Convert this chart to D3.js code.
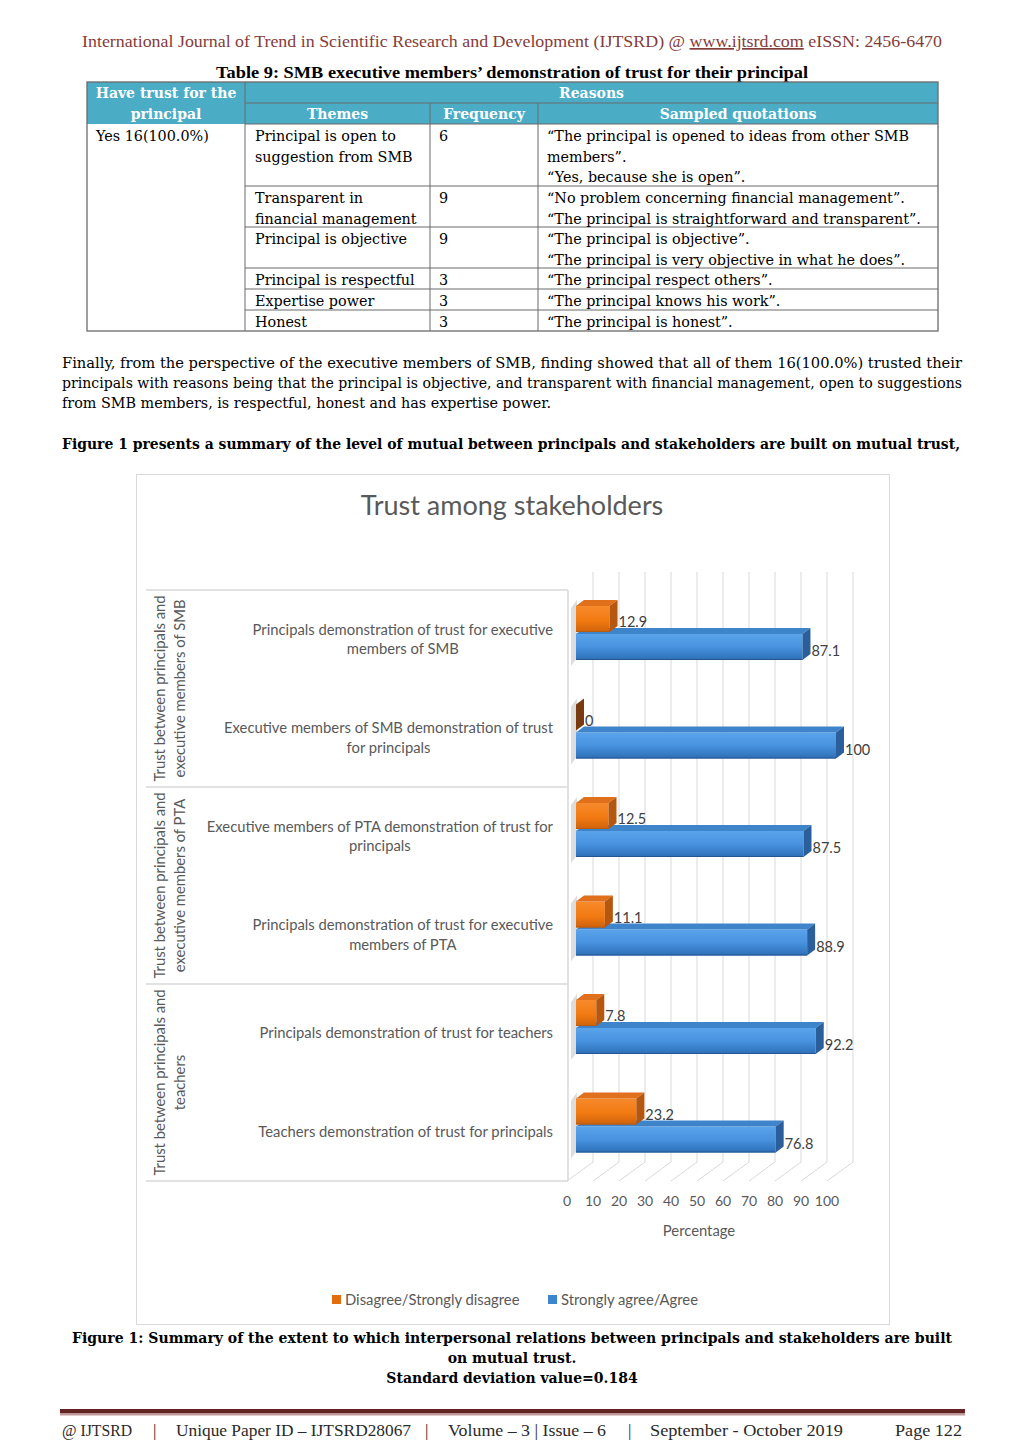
<!DOCTYPE html>
<html>
<head>
<meta charset="utf-8">
<script src="https://cdn.jsdelivr.net/npm/d3@7"></script>
<style>
  html, body { margin: 0; padding: 0; background: #fff; }
  svg { display: block; }
</style>
</head>
<body>
<svg id="page" width="1024" height="1449"></svg>
<script>
// ---------------- DATA ----------------
const categories = [
  "Principals demonstration of trust for executive\nmembers of SMB",
  "Executive members of SMB demonstration of trust\nfor principals",
  "Executive members of PTA demonstration of trust for\nprincipals",
  "Principals demonstration of trust for executive\nmembers of PTA",
  "Principals demonstration of trust for teachers",
  "Teachers demonstration of trust for principals"
];
const groups = [
  "Trust between principals and\nexecutive members of SMB",
  "Trust between principals and\nexecutive members of PTA",
  "Trust between principals and\nteachers"
];
const disagreeValues = [12.9, 0, 12.5, 11.1, 7.8, 23.2];
const agreeValues = [87.1, 100, 87.5, 88.9, 92.2, 76.8];
const seriesNames = ["Disagree/Strongly disagree", "Strongly agree/Agree"];
const xTicks = [0, 10, 20, 30, 40, 50, 60, 70, 80, 90, 100];
const chartTitle = "Trust among stakeholders";
const xAxisTitle = "Percentage";

// table content
const tableTitle = "Table 9: SMB executive members’ demonstration of trust for their principal";
const tableHead1 = ["Have trust for the", "Reasons"];
const tableHead2 = ["principal", "Themes", "Frequency", "Sampled quotations"];
const trustAnswer = "Yes 16(100.0%)";
const themes = ["Principal is open to\nsuggestion from SMB", "Transparent in\nfinancial management", "Principal is objective", "Principal is respectful", "Expertise power", "Honest"];
const frequencies = [6, 9, 9, 3, 3, 3];
const quotations = [
  "“The principal is opened to ideas from other SMB\nmembers”.\n“Yes, because she is open”.",
  "“No problem concerning financial management”.\n“The principal is straightforward and transparent”.",
  "“The principal is objective”.\n“The principal is very objective in what he does”.",
  "“The principal respect others”.",
  "“The principal knows his work”.",
  "“The principal is honest”."
];
const headerText = ["International Journal of Trend in Scientific Research and Development (IJTSRD) @ ", "www.ijtsrd.com", " eISSN: 2456-6470"];
const paragraph = [
  "Finally, from the perspective of the executive members of SMB, finding showed that all of them 16(100.0%) trusted their",
  "principals with reasons being that the principal is objective, and transparent with financial management, open to suggestions",
  "from SMB members, is respectful, honest and has expertise power."
];
const boldLine = "Figure 1 presents a summary of the level of mutual between principals and stakeholders are built on mutual trust,";
const caption = [
  "Figure 1: Summary of the extent to which interpersonal relations between principals and stakeholders are built",
  "on mutual trust.",
  "Standard deviation value=0.184"
];
const footerParts = ["@ IJTSRD", "|", "Unique Paper ID – IJTSRD28067", "|", "Volume – 3 | Issue – 6", "|", "September - October 2019", "Page 122"];

// ---------------- PAGE ----------------
const svg = d3.select("#page");
const SERIF = "'DejaVu Serif', 'Liberation Serif', serif";
const NARROW = "'Liberation Serif', 'Times New Roman', serif";
const SANS = "Lato, 'Open Sans', sans-serif";
const FS = 14.35;
const FSB = 14.0;

// running header
const hdr = svg.append("text").attr("x", 82).attr("y", 47)
  .attr("font-family", NARROW).attr("font-size", 17).attr("fill", "#843c39")
  .attr("textLength", 860).attr("lengthAdjust", "spacingAndGlyphs");
hdr.append("tspan").text(headerText[0]);
hdr.append("tspan").attr("text-decoration", "underline").text(headerText[1]);
hdr.append("tspan").text(headerText[2]);

// table title
svg.append("text").attr("x", 512).attr("y", 78).attr("text-anchor", "middle")
  .attr("font-family", NARROW).attr("font-weight", "bold").attr("font-size", 17).attr("fill", "#000")
  .attr("textLength", 592).attr("lengthAdjust", "spacingAndGlyphs")
  .text(tableTitle);

// table
const colX = [87, 245, 430, 538, 938];
const rowY = [124, 186, 227, 268, 289, 310, 331];
const tbl = svg.append("g");
tbl.append("rect").attr("x", colX[0]).attr("y", 82).attr("width", colX[4] - colX[0]).attr("height", 42).attr("fill", "#4bacc6");
const lineCol = "#6a6a6a";
function hl(x1, x2, y, w) { tbl.append("line").attr("x1", x1).attr("x2", x2).attr("y1", y).attr("y2", y).attr("stroke", lineCol).attr("stroke-width", w || 1); }
function vl(x, y1, y2, w) { tbl.append("line").attr("x1", x).attr("x2", x).attr("y1", y1).attr("y2", y2).attr("stroke", lineCol).attr("stroke-width", w || 1); }
hl(colX[1], colX[4], 103);
hl(colX[1], colX[4], 124);
rowY.slice(1, -1).forEach(y => hl(colX[1], colX[4], y));
vl(colX[1], 82, 331); vl(colX[2], 103, 331); vl(colX[3], 103, 331);
tbl.append("rect").attr("x", colX[0]).attr("y", 82).attr("width", colX[4] - colX[0]).attr("height", 249)
  .attr("fill", "none").attr("stroke", lineCol).attr("stroke-width", 1.3);

function headTxt(x, y, t) {
  tbl.append("text").attr("x", x).attr("y", y).attr("text-anchor", "middle")
    .attr("font-family", SERIF).attr("font-weight", "bold").attr("font-size", FSB).attr("fill", "#fff").text(t);
}
headTxt((colX[0] + colX[1]) / 2, 98, tableHead1[0]);
headTxt((colX[1] + colX[4]) / 2, 98, tableHead1[1]);
headTxt((colX[0] + colX[1]) / 2, 119, tableHead2[0]);
headTxt((colX[1] + colX[2]) / 2, 119, tableHead2[1]);
headTxt((colX[2] + colX[3]) / 2, 119, tableHead2[2]);
headTxt((colX[3] + colX[4]) / 2, 119, tableHead2[3]);

function cellTxt(x, y, t) {
  t.split("\n").forEach((line, i) => {
    tbl.append("text").attr("x", x).attr("y", y + i * 20.5)
      .attr("font-family", SERIF).attr("font-size", FS).attr("fill", "#000").text(line);
  });
}
cellTxt(96, 141, trustAnswer);
themes.forEach((t, i) => cellTxt(255, rowY[i] + 17, t));
frequencies.forEach((f, i) => cellTxt(439, rowY[i] + 17, String(f)));
quotations.forEach((q, i) => cellTxt(547, rowY[i] + 17, q));

// paragraph
paragraph.forEach((p, i) => {
  const t = svg.append("text").attr("x", 62).attr("y", 368 + i * 20)
    .attr("font-family", SERIF).attr("font-size", FS).attr("fill", "#000").text(p);
  if (i < paragraph.length - 1) t.attr("textLength", 900).attr("lengthAdjust", "spacingAndGlyphs");
});
svg.append("text").attr("x", 62).attr("y", 449)
  .attr("font-family", SERIF).attr("font-weight", "bold").attr("font-size", FSB).attr("fill", "#000")
  .attr("textLength", 898).attr("lengthAdjust", "spacingAndGlyphs").text(boldLine);

// ---------------- CHART ----------------
const chart = svg.append("g");
chart.append("rect").attr("x", 136.5).attr("y", 474.5).attr("width", 753).attr("height", 850)
  .attr("fill", "#fff").attr("stroke", "#d9d9d9").attr("stroke-width", 1);

chart.append("text").attr("x", 512).attr("y", 515).attr("text-anchor", "middle")
  .attr("font-family", SANS).attr("font-size", 27).attr("fill", "#595959").text(chartTitle);

const plotTop = 590, plotBottom = 1181;
const y = d3.scaleBand().domain(categories).range([plotTop, plotBottom]).padding(0);
const yGroup = d3.scaleBand().domain(groups).range([plotTop, plotBottom]).padding(0);
const x = d3.scaleLinear().domain([0, 100]).range([576, 836]);
const CFS = 14.8;

// depth parameters
const backDx = 17, backY = 1162, frontShift = -9, gridTop = 572;
const barDx = 8, barDy = 6, barH = 26;

// back wall gridlines
chart.append("g").selectAll("line").data(xTicks).join("line")
  .attr("x1", d => x(d) + backDx).attr("x2", d => x(d) + backDx)
  .attr("y1", gridTop).attr("y2", backY)
  .attr("stroke", "#d9d9d9").attr("stroke-width", 1);
// floor lines
chart.append("g").selectAll("line").data(xTicks).join("line")
  .attr("x1", d => x(d) + frontShift).attr("y1", plotBottom)
  .attr("x2", d => x(d) + backDx).attr("y2", backY)
  .attr("stroke", "#d9d9d9").attr("stroke-width", 1);
// tick labels
chart.append("g").selectAll("text").data(xTicks).join("text")
  .attr("x", d => x(d) + frontShift).attr("y", 1206).attr("text-anchor", "middle")
  .attr("font-family", SANS).attr("font-size", 14).attr("fill", "#595959").text(d => d);
chart.append("text").attr("x", 699).attr("y", 1236).attr("text-anchor", "middle")
  .attr("font-family", SANS).attr("font-size", CFS).attr("fill", "#595959").text(xAxisTitle);

// category table lines
const catLines = chart.append("g").attr("stroke", "#d9d9d9").attr("stroke-width", 1.5);
groups.forEach(g => {
  catLines.append("line").attr("x1", 146).attr("x2", 568).attr("y1", yGroup(g)).attr("y2", yGroup(g));
});
catLines.append("line").attr("x1", 146).attr("x2", 568).attr("y1", plotBottom).attr("y2", plotBottom);
catLines.append("line").attr("x1", 568).attr("x2", 568).attr("y1", plotTop).attr("y2", plotBottom);

// category labels (centered block, right edge at 552)
categories.forEach(c => {
  const lines = c.split("\n");
  const cy = y(c) + y.bandwidth() / 2;
  const g = chart.append("g");
  const texts = lines.map((l, i) => g.append("text")
    .attr("y", cy + (i - (lines.length - 1) / 2) * 19.5 + 5)
    .attr("text-anchor", "middle")
    .attr("font-family", SANS).attr("font-size", CFS).attr("fill", "#595959").text(l));
  const maxW = d3.max(texts, t => t.node().getComputedTextLength());
  texts.forEach(t => t.attr("x", 553 - maxW / 2));
});

// group labels (rotated)
groups.forEach(gname => {
  const lines = gname.split("\n");
  const cy = yGroup(gname) + yGroup.bandwidth() / 2;
  lines.forEach((l, i) => {
    chart.append("text")
      .attr("transform", `translate(${165 + i * 20},${cy}) rotate(-90)`)
      .attr("text-anchor", "middle")
      .attr("font-family", SANS).attr("font-size", CFS).attr("fill", "#595959").text(l);
  });
});

// gradients
const defs = svg.append("defs");
function grad(id, stops) {
  const g = defs.append("linearGradient").attr("id", id).attr("x1", 0).attr("y1", 0).attr("x2", 0).attr("y2", 1);
  stops.forEach(s => g.append("stop").attr("offset", s[0]).attr("stop-color", s[1]));
}
grad("orangeFront", [["0%", "#f78a2c"], ["55%", "#f27a12"], ["100%", "#cf620b"]]);
grad("blueFront", [["0%", "#5aa4ec"], ["50%", "#4892df"], ["100%", "#2d6fb7"]]);
const colors = {
  orange: { front: "url(#orangeFront)", top: "#e0701c", side: "#b5570f", zero: "#7a3a10", edge: "#b85a10" },
  blue: { front: "url(#blueFront)", top: "#3e84ca", side: "#2a5f9b", edge: "#245590" }
};

// wall shadows
const shadows = chart.append("g");
categories.forEach(c => {
  const b = y(c);
  shadows.append("path")
    .attr("d", `M${x(0) - 5},${b + 18} L${x(0) + 1},${b + 10} L${x(0) + 1},${b + 68} L${x(0) - 5},${b + 76} Z`)
    .attr("fill", "#d4d4d4").attr("opacity", 0.8);
});

function bar3d(g, v, top, col) {
  const x0 = x(0), x1 = x(v);
  if (v > 0) {
    g.append("rect").attr("x", x0).attr("y", top).attr("width", x1 - x0).attr("height", barH).attr("fill", col.front);
    g.append("path").attr("d", `M${x0},${top} L${x0 + barDx},${top - barDy} L${x1 + barDx},${top - barDy} L${x1},${top} Z`).attr("fill", col.top);
    g.append("line").attr("x1", x0).attr("x2", x1).attr("y1", top + barH - 0.5).attr("y2", top + barH - 0.5).attr("stroke", col.edge).attr("stroke-width", 1);
  }
  g.append("path").attr("d", `M${x1},${top} L${x1 + barDx},${top - barDy} L${x1 + barDx},${top + barH - barDy} L${x1},${top + barH} Z`)
    .attr("fill", v > 0 ? col.side : col.zero);
}

const bars = chart.append("g");
categories.forEach((c, i) => {
  const b = y(c);
  const g = bars.append("g");
  bar3d(g, agreeValues[i], b + 44, colors.blue);
  bar3d(g, disagreeValues[i], b + 16, colors.orange);
  g.append("text").attr("x", x(disagreeValues[i]) + barDx + 1).attr("y", b + 37)
    .attr("font-family", SANS).attr("font-size", 14.5).attr("fill", "#404040").text(disagreeValues[i]);
  g.append("text").attr("x", x(agreeValues[i]) + barDx + 1).attr("y", b + 66)
    .attr("font-family", SANS).attr("font-size", 14.5).attr("fill", "#404040").text(agreeValues[i]);
});

// legend
const legend = chart.append("g");
[[332, "#e46c0a", seriesNames[0]], [548, "#3d86cf", seriesNames[1]]].forEach(([lx, c, t]) => {
  legend.append("rect").attr("x", lx).attr("y", 1295).attr("width", 9).attr("height", 9).attr("fill", c);
  legend.append("text").attr("x", lx + 13).attr("y", 1305)
    .attr("font-family", SANS).attr("font-size", CFS).attr("fill", "#595959").text(t);
});

// caption
caption.forEach((c, i) => {
  const t = svg.append("text").attr("x", 512).attr("y", 1343 + i * 20).attr("text-anchor", "middle")
    .attr("font-family", SERIF).attr("font-weight", "bold").attr("font-size", FSB).attr("fill", "#000").text(c);
  if (i === 0) t.attr("textLength", 880).attr("lengthAdjust", "spacingAndGlyphs");
});

// footer
svg.append("rect").attr("x", 60).attr("y", 1409).attr("width", 905).attr("height", 4.5).attr("fill", "#632523");
svg.append("rect").attr("x", 60).attr("y", 1413.5).attr("width", 905).attr("height", 2).attr("fill", "#c29a99");
const footerX = [62, 153, 176, 425, 448, 628, 650, 895];
const footerW = [70, 0, 235, 0, 158, 0, 193, 67];
footerParts.forEach((t, i) => {
  const el = svg.append("text").attr("x", footerX[i]).attr("y", 1436)
    .attr("font-family", NARROW).attr("font-size", 17).attr("fill", "#2a2a2a").text(t);
  if (footerW[i] > 0) el.attr("textLength", footerW[i]).attr("lengthAdjust", "spacingAndGlyphs");
});
</script>
</body>
</html>
